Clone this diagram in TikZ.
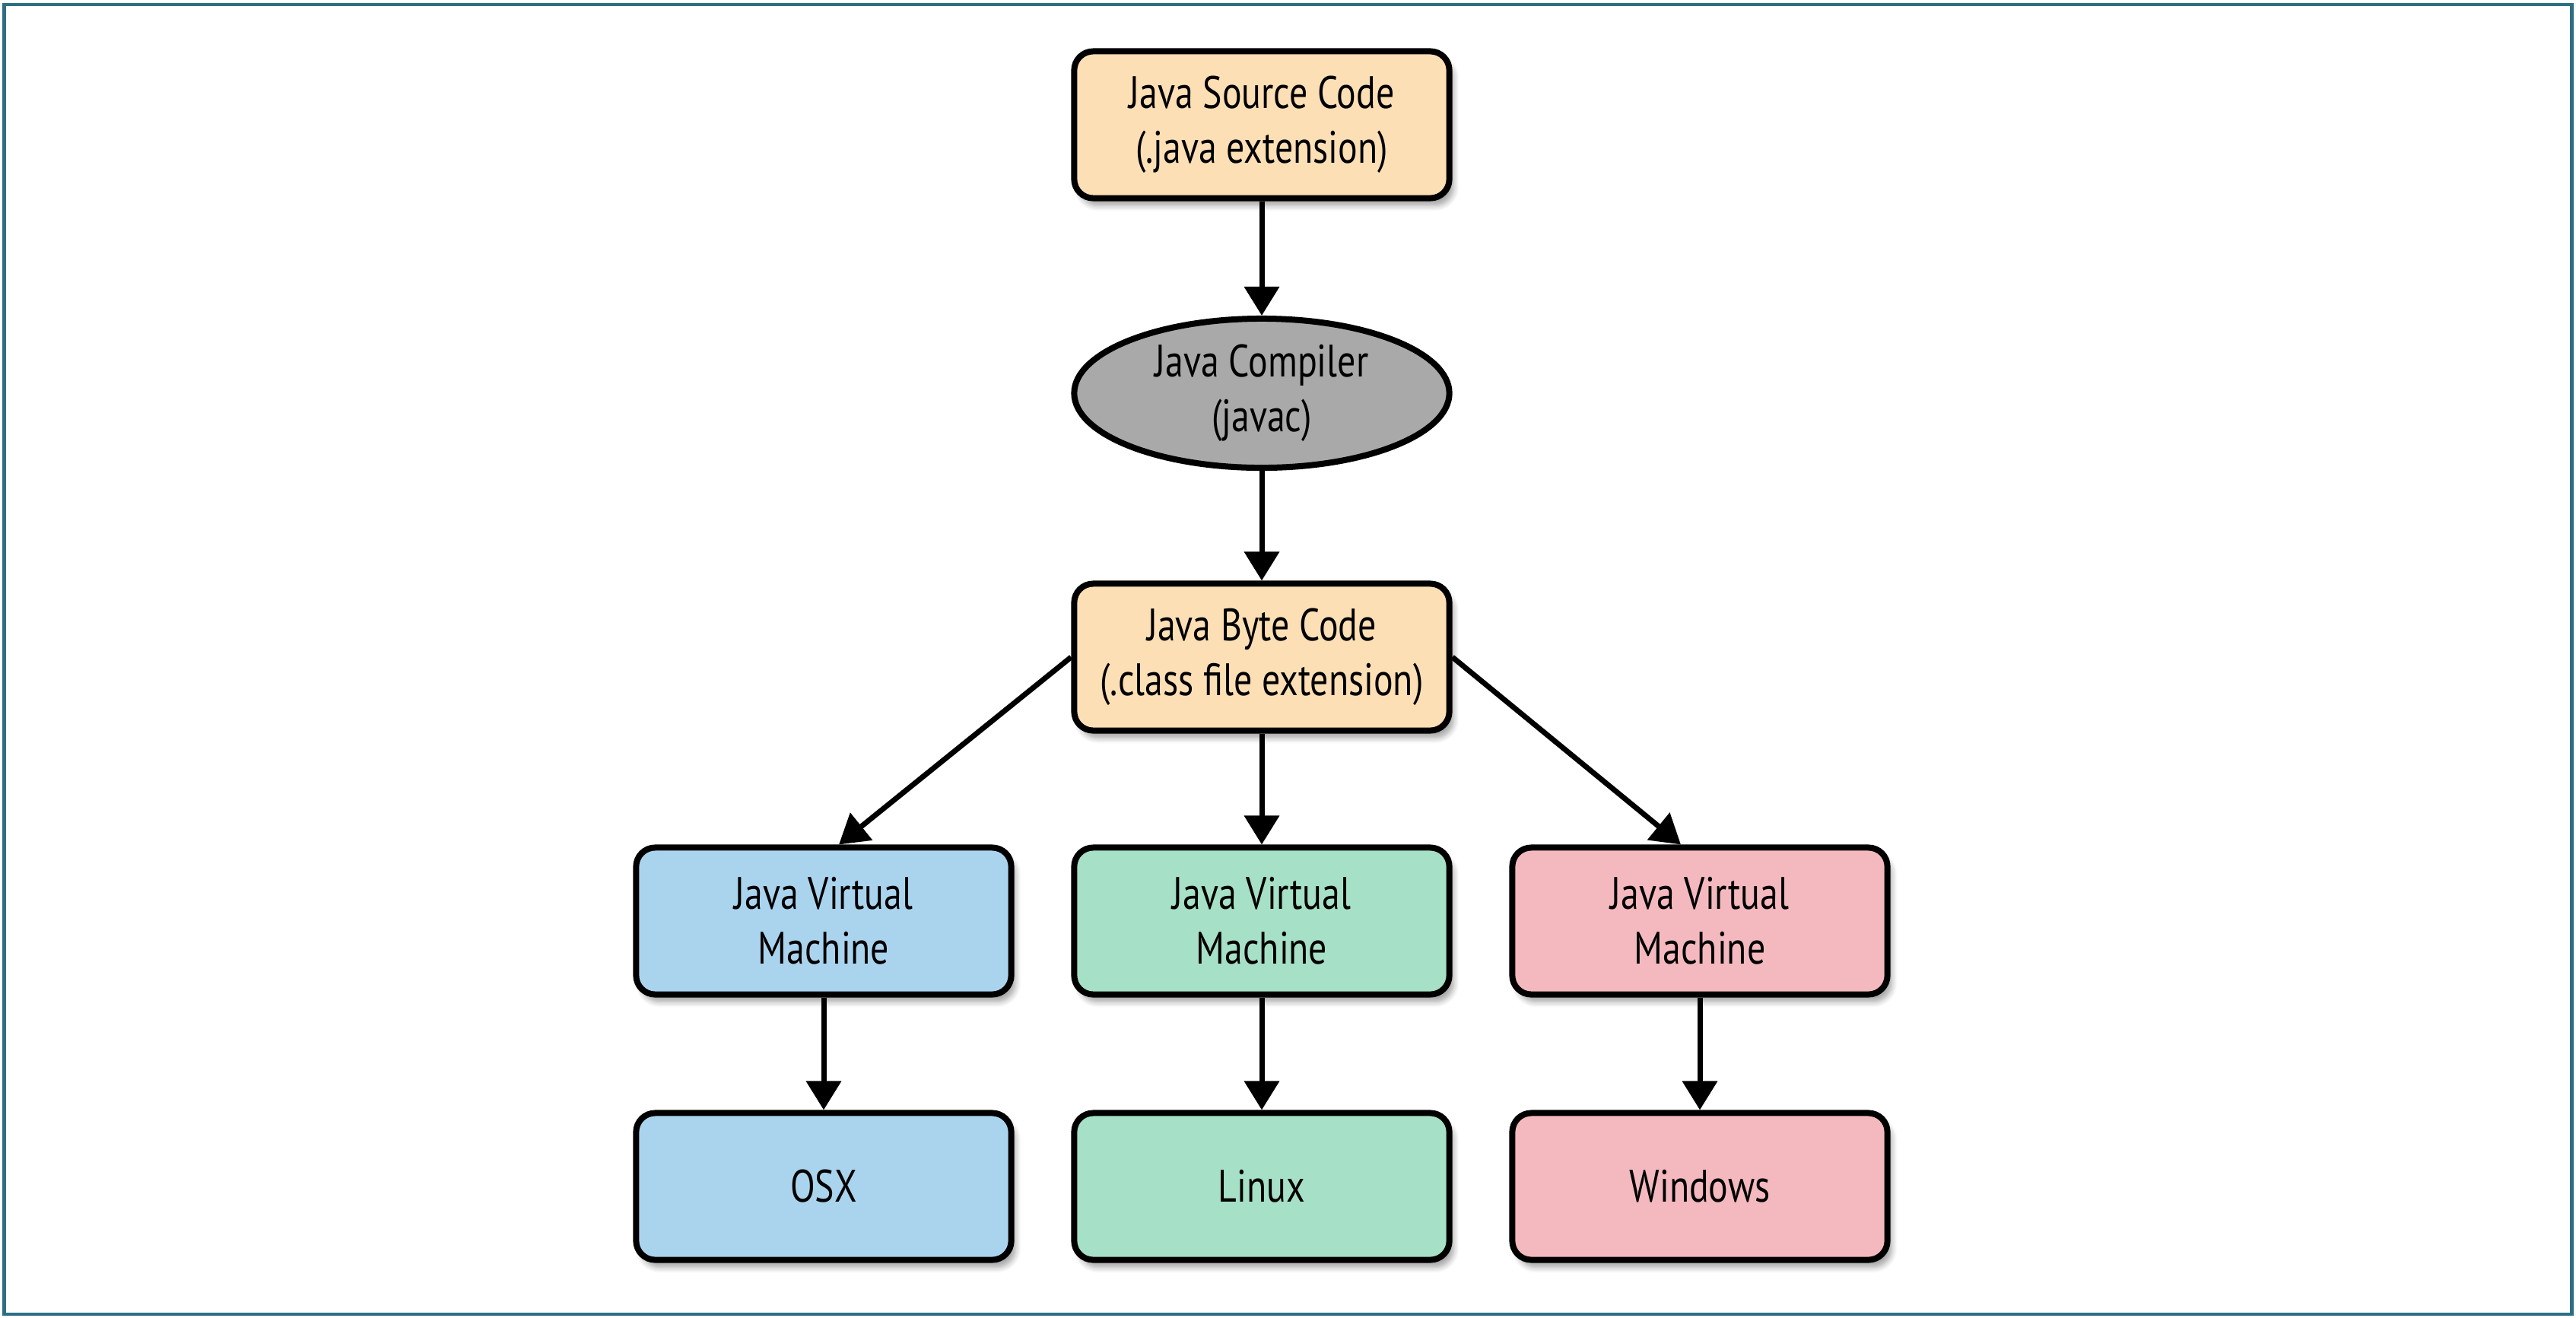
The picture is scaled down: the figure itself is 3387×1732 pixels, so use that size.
\documentclass[tikz,border=0pt]{standalone}
\usepackage{fontspec}
\setmainfont[FakeStretch=0.8]{PT Sans}
\usetikzlibrary{arrows.meta,shapes.geometric,shadows.blur}
\definecolor{framec}{HTML}{2E6E85}
\definecolor{peach}{HTML}{FDDFB6}
\definecolor{grayc}{HTML}{A9A9A9}
\definecolor{bluec}{HTML}{AAD4EE}
\definecolor{greenc}{HTML}{A6E0C6}
\definecolor{pinkc}{HTML}{F4B9BE}
\tikzset{
  box/.style={draw=black, line width=0.08cm, rounded corners=0.25cm,
    minimum width=4.93cm, minimum height=1.93cm, align=center, inner sep=0pt,
    font=\fontsize{17}{20.5}\selectfont,
    blur shadow={shadow xshift=0.06cm, shadow yshift=-0.1cm, shadow blur steps=6, shadow opacity=35}},
  ell/.style={draw=black, line width=0.08cm, ellipse, fill=grayc,
    minimum width=4.93cm, minimum height=1.96cm, align=center, inner sep=0pt,
    font=\fontsize{17}{20.5}\selectfont},
  arr/.style={line width=0.07cm, -{Triangle[length=0.38cm,width=0.45cm]}},
}
\begin{document}
\begin{tikzpicture}[x=0.01cm,y=-0.01cm]
\useasboundingbox (0,0) rectangle (3387,1732);
\draw[framec, line width=0.045cm] (5.5,6) rectangle (3381.5,1728);
\node[box, fill=peach] (src) at (1659,164) {Java Source Code\\(.java extension)};
\node[ell] (comp) at (1659,517) {Java Compiler\\(javac)};
\node[box, fill=peach] (bc) at (1659,864) {Java Byte Code\\(.class file extension)};
\node[box, fill=bluec] (jvm1) at (1083,1211) {Java Virtual\\Machine};
\node[box, fill=greenc] (jvm2) at (1659,1211) {Java Virtual\\Machine};
\node[box, fill=pinkc] (jvm3) at (2235,1211) {Java Virtual\\Machine};
\node[box, fill=bluec] (os1) at (1083,1560) {OSX};
\node[box, fill=greenc] (os2) at (1659,1560) {Linux};
\node[box, fill=pinkc] (os3) at (2235,1560) {Windows};
\draw[arr] (src) -- (comp);
\draw[arr] (comp) -- (bc);
\draw[arr] (bc.west) -- ([xshift=0.2cm]jvm1.north);
\draw[arr] (bc) -- (jvm2);
\draw[arr] (bc.east) -- ([xshift=-0.25cm]jvm3.north);
\draw[arr] (jvm1) -- (os1);
\draw[arr] (jvm2) -- (os2);
\draw[arr] (jvm3) -- (os3);
\end{tikzpicture}
\end{document}
